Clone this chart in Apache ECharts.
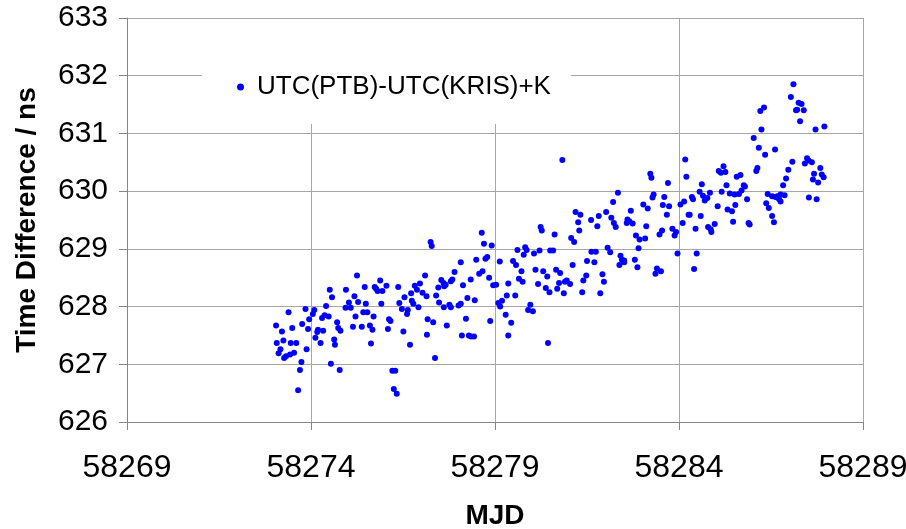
<!DOCTYPE html>
<html>
<head>
<meta charset="utf-8">
<script src="https://cdn.jsdelivr.net/npm/echarts@6/dist/echarts.min.js"></script>
<style>html,body{margin:0;padding:0;background:#fff}#chart{width:906px;height:529px}</style>
</head>
<body>
<div id="chart"></div>
<script>
const seriesName = 'UTC(PTB)-UTC(KRIS)+K';
const xTicks = [58269, 58274, 58279, 58284, 58289];
const yTicks = [626, 627, 628, 629, 630, 631, 632, 633];

const mjd = [
  58274.51,58274.95,58274.57,58275.03,58274.41,58274.94,58273.85,58274.09,58273.39,58274.05,
  58274.37,58274.48,58274.30,58273.95,58274.71,58273.76,58273.05,58273.49,58273.92,58274.19,
  58274.33,58274.17,58274.74,58274.80,58273.21,58274.12,58274.26,58274.63,58274.65,58273.25,
  58273.07,58273.45,58273.60,58273.17,58273.88,58273.12,58273.54,58273.43,58273.32,58273.27,
  58273.74,58274.54,58273.70,58274.78,58273.65,
  58275.25,58275.88,58275.46,58275.73,58276.05,58276.37,58275.81,58275.94,58275.77,58275.18,
  58275.28,58275.49,58275.91,58275.08,58276.40,58276.54,58276.72,58276.82,58276.96,58276.88,
  58277.03,58277.10,58277.14,58276.74,58276.78,58276.47,58276.63,58276.61,58276.92,58275.42,
  58275.53,58275.70,58275.21,58276.12,58276.16,58275.14,58275.38,58275.60,58275.67,58276.09,
  58276.51,58277.17,58277.15,58275.63,58276.69,58276.21,58276.29,58276.25,58276.33,
  58277.25,58277.28,58278.64,58278.70,58278.91,58279.13,58278.07,58278.49,58278.74,58278.79,
  58277.90,58278.66,58278.57,58278.84,58278.34,58277.84,58277.80,58277.54,58277.60,58277.66,
  58277.62,58277.46,58278.13,58278.95,58279.03,58277.40,58278.25,58278.45,58277.48,58277.61,
  58277.76,58277.80,58278.01,58278.07,58279.09,58279.19,58279.32,58279.14,58279.29,58277.32,
  58277.69,58278.21,58278.87,58278.10,58278.29,58278.35,58278.43,58279.36,58277.37,58279.36,
  58280.83,58281.19,58281.32,58281.26,58281.29,58280.24,58280.27,58280.62,58281.07,58281.15,
  58279.82,58279.86,58279.61,58280.06,58280.21,58279.78,58280.50,58280.58,58281.50,58279.49,
  58279.57,58281.11,58279.72,58280.10,58280.31,58280.42,58280.66,58280.77,58281.48,58279.65,
  58279.75,58280.17,58280.38,58280.48,58280.74,58280.69,58280.90,58280.95,58281.04,58280.87,
  58281.37,58281.40,58279.55,58279.96,58279.90,58280.03,58279.44,58280.44,
  58283.22,58283.25,58283.70,58282.34,58283.31,58283.28,58283.60,58282.21,58283.03,58283.15,
  58283.56,58283.73,58282.02,58282.69,58281.82,58282.16,58281.61,58282.23,58282.28,58281.78,
  58282.60,58282.65,58282.58,58282.74,58283.11,58283.67,58282.83,58282.93,58283.08,58283.54,
  58283.47,58282.90,58282.06,58282.13,58281.62,58281.74,58281.70,58282.41,58282.45,58282.51,
  58282.38,58282.51,58282.80,58282.87,58283.40,58283.51,58283.36,58281.92,58281.96,58281.86,
  58284.17,58284.20,58285.21,58285.08,58285.14,58285.26,58285.57,58285.67,58285.76,58285.79,
  58285.70,58285.29,58284.62,58284.56,58284.65,58284.77,58284.84,58284.70,58285.16,58285.38,
  58285.51,58285.63,58284.35,58284.38,58284.14,58284.04,58285.85,58285.53,58285.05,58285.32,
  58285.44,58284.26,58284.29,58284.59,58284.10,58285.47,58284.45,58284.79,58284.86,58284.88,
  58284.97,58285.89,58285.92,58283.82,58283.92,58283.88,58283.96,58284.48,58284.41,
  58287.11,58287.04,58287.25,58287.33,58287.21,58287.18,58287.39,58287.29,58286.31,58286.21,
  58286.24,58287.71,58287.95,58286.03,58286.17,58286.61,58286.34,58287.08,58287.48,58287.52,
  58287.42,58287.61,58287.84,58286.97,58286.13,58286.10,58287.67,58287.88,58287.93,58286.91,
  58287.64,58287.78,58286.83,58286.41,58286.53,58286.62,58286.67,58286.76,58286.87,58286.72,
  58286.76,58286.37,58286.44,58287.53,58287.74,58286.53,58286.58
];

const timeDiff = [
  628.29,628.29,628.16,628.07,628.01,627.98,627.96,627.94,627.90,627.87,
  627.85,627.83,627.80,627.78,627.73,627.70,627.67,627.63,627.61,627.60,
  627.58,627.56,627.63,627.58,627.57,627.46,627.37,627.43,627.34,627.41,
  627.37,627.37,627.37,627.26,627.26,627.19,627.20,627.17,627.14,627.11,
  627.04,627.01,626.90,626.90,626.55,
  628.54,628.45,628.34,628.34,628.36,628.34,628.27,628.27,628.31,628.18,
  628.08,628.05,628.05,627.98,628.06,628.16,628.23,628.36,628.40,628.29,
  628.24,628.54,628.18,628.10,628.05,627.96,627.94,627.87,627.99,627.90,
  627.90,627.83,627.83,627.78,627.75,627.65,627.65,627.67,627.60,627.61,
  627.57,627.78,627.51,627.36,627.34,626.89,626.89,626.57,626.49,
  629.12,629.05,629.28,629.09,629.06,628.78,628.77,628.81,628.83,628.86,
  628.60,628.61,628.57,628.50,628.47,628.47,628.44,628.46,628.41,628.38,
  628.35,628.33,628.37,628.37,628.38,628.19,628.15,628.11,628.07,627.99,
  628.03,627.99,628.02,628.05,628.06,628.10,628.19,628.00,627.86,627.73,
  627.67,627.79,627.75,627.50,627.50,627.48,627.48,627.50,627.11,628.40,
  630.54,629.64,629.59,629.46,629.32,629.38,629.32,629.25,629.19,629.12,
  629.03,628.98,628.98,628.92,628.97,628.90,628.97,628.97,628.79,628.79,
  628.72,628.72,628.61,628.64,628.61,628.52,628.64,628.58,628.54,628.48,
  628.43,628.39,628.32,628.25,628.41,628.31,628.43,628.45,628.39,628.23,
  628.25,628.45,628.19,628.03,627.94,627.92,627.72,627.37,
  630.30,630.23,630.14,629.97,629.94,629.89,629.90,629.81,629.77,629.70,
  629.76,629.74,629.64,629.66,629.57,629.54,629.50,629.45,629.38,629.39,
  629.51,629.48,629.45,629.44,629.39,629.59,629.23,629.16,629.18,629.32,
  629.25,629.01,629.02,628.94,628.95,628.95,628.77,628.88,628.81,628.80,
  628.72,628.77,628.81,628.68,628.66,628.61,628.57,628.56,628.43,628.23,
  630.55,630.25,630.43,630.35,630.32,630.33,630.25,630.28,630.10,630.08,
  630.01,630.10,630.12,629.99,629.92,629.88,629.97,629.84,629.99,629.96,
  629.94,629.95,629.90,629.86,629.82,629.77,629.86,629.76,629.74,629.68,
  629.65,629.59,629.59,629.57,629.45,629.47,629.35,629.38,629.34,629.29,
  629.43,629.45,629.42,629.35,629.29,629.23,628.92,628.92,628.65,
  631.85,631.63,631.53,631.51,631.41,631.40,631.40,631.21,631.45,631.39,
  631.07,631.07,631.12,630.92,630.75,630.72,630.63,630.51,630.57,630.53,
  630.48,630.50,630.40,630.37,630.40,630.35,630.30,630.29,630.24,630.22,
  630.20,630.15,630.10,629.95,629.91,629.90,629.91,629.94,629.93,629.86,
  629.82,629.79,629.71,629.89,629.86,629.57,629.46
];

const data = mjd.map((x, i) => [x, timeDiff[i]]);

const chart = echarts.init(document.getElementById('chart'), null, {renderer: 'canvas'});
const gridColor = '#A6A6A6';
const font = '"Liberation Sans", Arial, sans-serif';
chart.setOption({
  animation: false,
  backgroundColor: '#ffffff',
  grid: {left: 127, right: 43, top: 18, bottom: 107, containLabel: false, outerBoundsMode: 'none'},
  legend: {
    data: [{name: seriesName, icon: 'circle'}],
    left: 202, top: 19,
    itemWidth: 7, itemHeight: 7, itemGap: 0,
    padding: [55, 20, 24, 35],
    backgroundColor: '#ffffff',
    textStyle: {fontFamily: font, fontSize: 26, lineHeight: 26, color: '#000', padding: [0, 0, 0, 8]}
  },
  xAxis: {
    type: 'value', min: xTicks[0], max: xTicks[xTicks.length - 1], interval: 5,
    name: 'MJD', nameLocation: 'middle', nameGap: 80,
    nameTextStyle: {fontFamily: font, fontSize: 28, fontWeight: 'bold', color: '#000'},
    axisLine: {show: true, onZero: false, lineStyle: {color: '#868686', width: 1}},
    axisTick: {show: true, length: 8, inside: false, lineStyle: {color: '#868686'}},
    axisLabel: {fontFamily: font, fontSize: 32, color: '#000', margin: 30, formatter: v => String(v)},
    splitLine: {show: true, lineStyle: {color: gridColor, width: 1}}
  },
  yAxis: {
    type: 'value', min: yTicks[0], max: yTicks[yTicks.length - 1], interval: 1,
    name: 'Time Difference / ns', nameLocation: 'middle', nameGap: 86,
    nameTextStyle: {fontFamily: font, fontSize: 28, fontWeight: 'bold', color: '#000'},
    axisLine: {show: true, lineStyle: {color: '#868686', width: 1}},
    axisTick: {show: true, length: 8, lineStyle: {color: '#868686'}},
    axisLabel: {fontFamily: font, fontSize: 30, color: '#000', margin: 19, formatter: v => String(v)},
    splitLine: {show: true, lineStyle: {color: gridColor, width: 1}}
  },
  series: [{
    name: seriesName,
    type: 'scatter',
    data: data,
    symbol: 'circle',
    symbolSize: 6,
    itemStyle: {color: '#0000FF', opacity: 1}
  }]
});
</script>
</body>
</html>
